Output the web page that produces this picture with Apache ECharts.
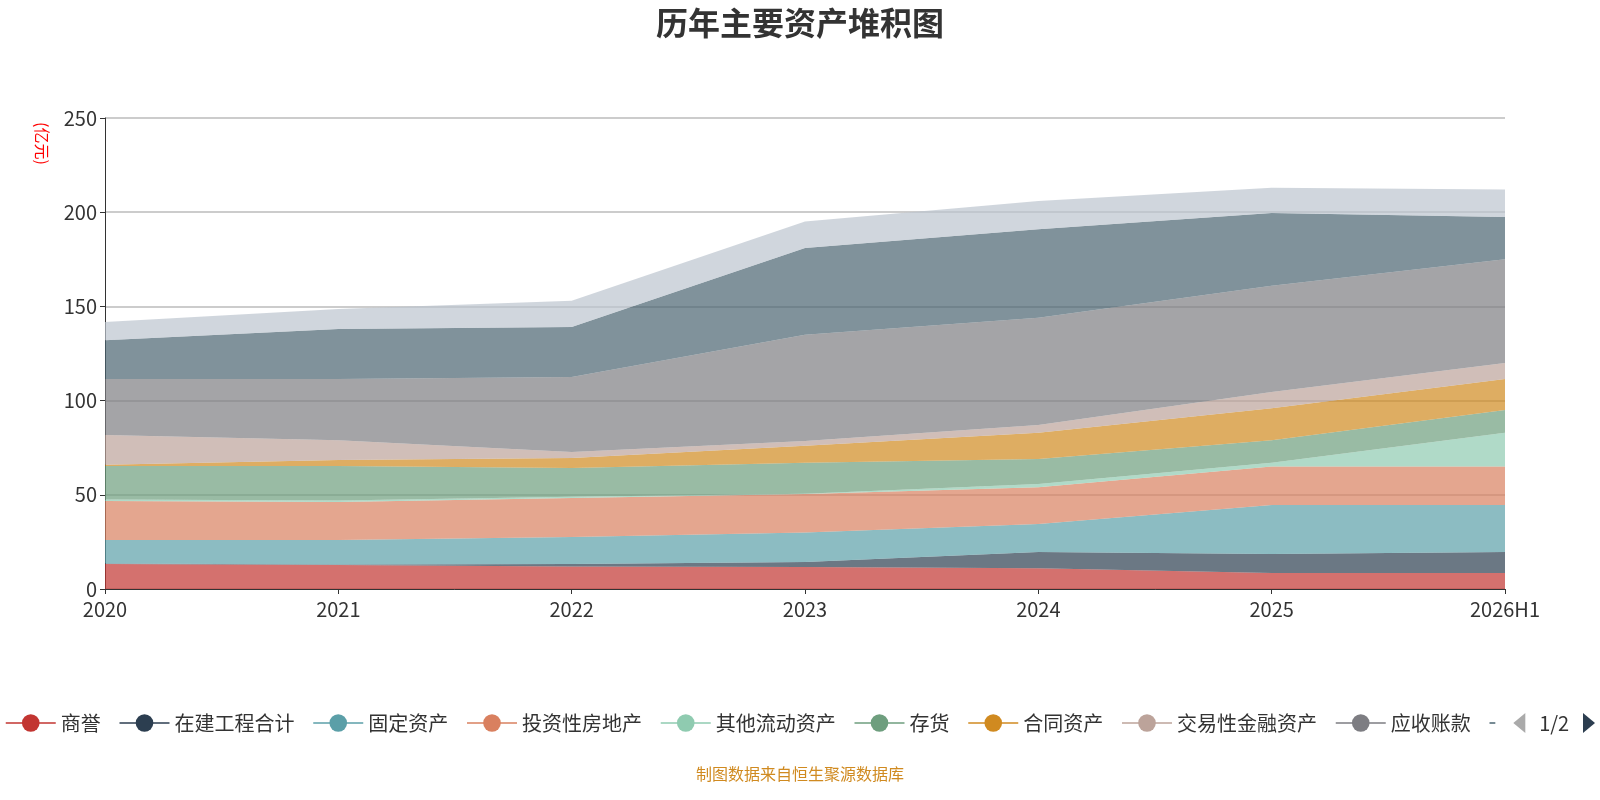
<!DOCTYPE html>
<html><head><meta charset="utf-8">
<script src="https://cdn.jsdelivr.net/npm/echarts@6/dist/echarts.min.js"></script>
<style>html,body{margin:0;padding:0;background:#fff}#c{width:1600px;height:800px}</style>
</head><body><div id="c"></div>
<script>
// 年份
const years = ['2020', '2021', '2022', '2023', '2024', '2025', '2026H1'];
// 各项目数值（亿元），按堆叠顺序
const names = ['商誉', '在建工程合计', '固定资产', '投资性房地产', '其他流动资产', '存货', '合同资产', '交易性金融资产', '应收账款', '货币资金', '长期股权投资'];
const shangyu = [13.3, 12.7, 12, 11.7, 11, 8.5, 8.5];
const zaijian = [0.2, 0.3, 1.3, 2.6, 8.6, 10.1, 11.1];
const guding = [12.5, 13, 14.3, 15.7, 14.9, 26, 25];
const touzifang = [20.7, 20.2, 20.7, 20.4, 19.5, 20.4, 20.4];
const qitaliudong = [0.8, 0.8, 0.7, 0.1, 1.7, 2, 18];
const cunhuo = [17.8, 18.3, 15.2, 16.5, 13.3, 12, 12];
const hetong = [0.7, 3.2, 5.3, 9, 14, 17, 16.5];
const jiaoyi = [15.7, 10.5, 3.2, 2.5, 4, 8.6, 8.5];
const yingshou = [29.8, 32.5, 39.8, 56.5, 57, 56.4, 55];
const huobi = [20.5, 26.5, 26.5, 46, 47, 38.6, 22.5];
const changqi = [9.7, 10.6, 14, 14, 15, 13.4, 14.5];
const values = [shangyu, zaijian, guding, touzifang, qitaliudong, cunhuo, hetong, jiaoyi, yingshou, huobi, changqi];
const colors = ['#c23531', '#2c3e50', '#5b9fa8', '#d9805f', '#8fcbb0', '#6e9e7e', '#d08a20', '#bca39a', '#7d7d82', '#4a6470', '#bcc4ce'];

const font = '"Noto Sans CJK SC", "Noto Sans", sans-serif';
const chart = echarts.init(document.getElementById('c'));
chart.setOption({
  animation: false,
  color: colors,
  textStyle: { fontFamily: font },
  title: {
    text: '历年主要资产堆积图', left: 'center', top: 2,
    textStyle: { fontSize: 32, fontWeight: 'bold', color: '#333', fontFamily: font }
  },
  grid: { left: 105, right: 95, top: 118, bottom: 211 },
  legend: {
    type: 'scroll', bottom: 62, left: 0, right: 30,
    itemWidth: 50, itemHeight: 22, itemGap: 18,
    lineStyle: { width: 1.5, opacity: 1 },
    textStyle: { fontSize: 20, color: '#333', fontFamily: font },
    pageIconSize: 20, pageTextStyle: { fontSize: 20, color: '#333' },
    pageIconColor: '#2c3e50', pageIconInactiveColor: '#aaa'
  },
  graphic: [{
    type: 'text', left: 'center', bottom: 18,
    style: { text: '制图数据来自恒生聚源数据库', fill: '#d08a20', fontSize: 16, fontFamily: font }
  }, {
    type: 'text', left: 34, top: 122, rotation: -Math.PI / 2,
    style: { text: '(亿元)', fill: 'red', fontSize: 16, fontFamily: font }
  }],
  xAxis: {
    type: 'category', boundaryGap: false, data: years,
    axisLine: { lineStyle: { color: '#333' } },
    axisTick: { show: true, alignWithLabel: true },
    axisLabel: { fontSize: 20, color: '#333', margin: 10 }
  },
  yAxis: {
    type: 'value', min: 0, max: 250, interval: 50,
    axisLine: { show: true, lineStyle: { color: '#333' } },
    axisTick: { show: true },
    axisLabel: { fontSize: 20, color: '#333' },
    splitLine: { lineStyle: { color: '#bbb', width: 1.5 } }
  },
  series: names.map((n, i) => ({
    name: n, type: 'line', stack: 'total', symbol: 'circle', symbolSize: 0, showSymbol: false,
    lineStyle: { width: 0 },
    areaStyle: { opacity: 0.7 },
    data: values[i]
  }))
});
</script></body></html>
